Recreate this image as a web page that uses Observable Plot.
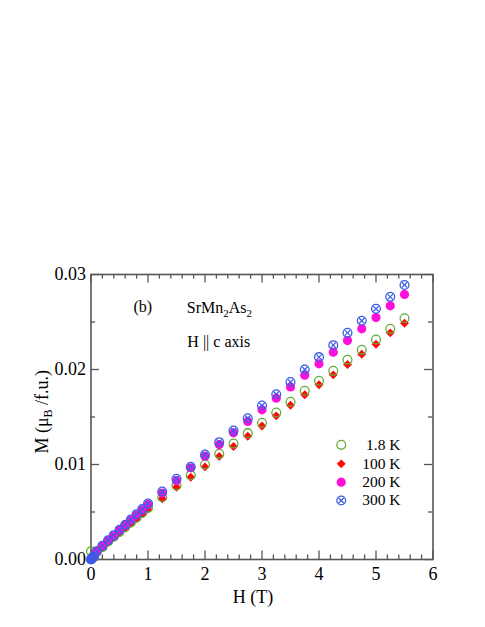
<!DOCTYPE html>
<html>
<head>
<meta charset="utf-8">
<script src="https://cdn.jsdelivr.net/npm/d3@7"></script>
<script src="https://cdn.jsdelivr.net/npm/@observablehq/plot@0.6"></script>
<style>
  html, body { margin: 0; padding: 0; background: #fff; }
  #chart svg { display: block; }
</style>
</head>
<body>
<div id="chart"></div>
<script>
// ---- data ----
const H = [0, 0.01, 0.02, 0.03, 0.05, 0.1, 0.2, 0.3, 0.4, 0.5, 0.6, 0.7, 0.8, 0.9, 1.0, 1.25, 1.5, 1.75, 2.0, 2.25, 2.5, 2.75, 3.0, 3.25, 3.5, 3.75, 4.0, 4.25, 4.5, 4.75, 5.0, 5.25, 5.5];
const M_1p8K = [0.00085, 0.0001, 0.0002, 0.00022, 0.0003, 0.0008, 0.0013, 0.0019, 0.0024, 0.0029, 0.0034, 0.0039, 0.0044, 0.0049, 0.00544, 0.00656, 0.00779, 0.00888, 0.0100, 0.01112, 0.01221, 0.0133, 0.01439, 0.01547, 0.0166, 0.01776, 0.01881, 0.01986, 0.02102, 0.02207, 0.02316, 0.02428, 0.0254];
const M_100K = [0, 0.00005, 0.0001, 0.00015, 0.00025, 0.0008, 0.0013, 0.0018, 0.0023, 0.0028, 0.0033, 0.0038, 0.0043, 0.0048, 0.0053, 0.0064, 0.0076, 0.00866, 0.00975, 0.01085, 0.0119, 0.01298, 0.01405, 0.01512, 0.01624, 0.01734, 0.01839, 0.01944, 0.02053, 0.02161, 0.02266, 0.02386, 0.02487];
const M_200K = [0, 0.00005, 0.0001, 0.00017, 0.0003, 0.00085, 0.0014, 0.00198, 0.0025, 0.00308, 0.0036, 0.00413, 0.00468, 0.0052, 0.00578, 0.0070, 0.0083, 0.00965, 0.01088, 0.0121, 0.01333, 0.01453, 0.01576, 0.01698, 0.01816, 0.0194, 0.0206, 0.02182, 0.02305, 0.02428, 0.02547, 0.0267, 0.0279];
const M_300K = [0, 0.00006, 0.00012, 0.00018, 0.0003, 0.00087, 0.00144, 0.00203, 0.00256, 0.00313, 0.00365, 0.00421, 0.00477, 0.0053, 0.0059, 0.00716, 0.0085, 0.00976, 0.01105, 0.01235, 0.01358, 0.01487, 0.01621, 0.0174, 0.01868, 0.0200, 0.0213, 0.02256, 0.02386, 0.02513, 0.02639, 0.02765, 0.0289];
const seriesLabels = ["1.8 K", "100 K", "200 K", "300 K"];
const xTickLabels = [0, 1, 2, 3, 4, 5, 6];
const yTickLabels = [0, 0.01, 0.02, 0.03];

// ---- styling ----
const cGreen = "#62ad35", cRed = "#ff0a0a", cMag = "#ff10d8", cBlue = "#3a5ce6";
const font = "'Liberation Serif', 'Times New Roman', serif";

const rows = (Ms) => H.map((h, i) => ({H: h, M: Ms[i]}));
const d18 = rows(M_1p8K), d100 = rows(M_100K), d200 = rows(M_200K), d300 = rows(M_300K);

const xMinor = d3.range(0, 6.001, 0.2).filter(v => Math.abs(v - Math.round(v)) > 1e-6);
const yMinor = [0.005, 0.015, 0.025];

// legend layout in data coords
const legX = 4.39, legTextX = 5.43;
const legY = [0.01207, 0.01007, 0.00814, 0.00621];
const leg = seriesLabels.map((s, i) => ({label: s, x: legX, tx: legTextX, y: legY[i]}));

const tickStroke = "#555";
const chart = Plot.plot({
  width: 485,
  height: 627,
  marginLeft: 90.5,
  marginRight: 52.5,
  marginTop: 274,
  marginBottom: 68,
  style: {fontFamily: font, background: "#fff", color: "#000"},
  x: {domain: [0, 6], label: null},
  y: {domain: [0, 0.03], label: null},
  marks: [
    // inward ticks on all sides
    Plot.ruleX(xTickLabels, {x: d => d, y1: 0, y2: 0.0009, stroke: tickStroke, strokeWidth: 1.3}),
    Plot.ruleX(xMinor, {x: d => d, y1: 0, y2: 0.00048, stroke: tickStroke, strokeWidth: 1.3}),
    Plot.ruleX(xTickLabels, {x: d => d, y1: 0.03, y2: 0.0291, stroke: tickStroke, strokeWidth: 1.3}),
    Plot.ruleX(xMinor, {x: d => d, y1: 0.03, y2: 0.02952, stroke: tickStroke, strokeWidth: 1.3}),
    Plot.ruleY(yTickLabels, {y: d => d, x1: 0, x2: 0.15, stroke: tickStroke, strokeWidth: 1.3}),
    Plot.ruleY(yMinor, {y: d => d, x1: 0, x2: 0.08, stroke: tickStroke, strokeWidth: 1.3}),
    Plot.ruleY(yTickLabels, {y: d => d, x1: 6, x2: 5.85, stroke: tickStroke, strokeWidth: 1.3}),
    Plot.ruleY(yMinor, {y: d => d, x1: 6, x2: 5.92, stroke: tickStroke, strokeWidth: 1.3}),
    Plot.frame({stroke: tickStroke, strokeWidth: 1.6}),
    Plot.axisX({ticks: xTickLabels, tickSize: 0, tickPadding: 8, fontSize: 18, label: null, tickFormat: d3.format("d")}),
    Plot.axisY({ticks: yTickLabels, tickSize: 0, tickPadding: 5, fontSize: 18, label: null, tickFormat: d3.format(".2f")}),
    // data
    Plot.dot(d100, {x: "H", y: "M", symbol: "diamond2", r: 4, fill: cRed, stroke: "none"}),
    Plot.dot(d18, {x: "H", y: "M", symbol: "circle", r: 4.4, fill: "none", stroke: cGreen, strokeWidth: 1.3}),
    Plot.dot(d200, {x: "H", y: "M", symbol: "circle", r: 4.6, fill: cMag, stroke: "none"}),
    Plot.dot(d300, {x: "H", y: "M", symbol: "circle", r: 4.4, fill: "none", stroke: cBlue, strokeWidth: 1.3}),
    Plot.dot(d300, {x: "H", y: "M", symbol: "times", r: 2.6, stroke: cBlue, strokeWidth: 1.2}),
    // legend
    Plot.dot([leg[0]], {x: "x", y: "y", symbol: "circle", r: 4.4, fill: "none", stroke: cGreen, strokeWidth: 1.3}),
    Plot.dot([leg[1]], {x: "x", y: "y", symbol: "diamond2", r: 4, fill: cRed, stroke: "none"}),
    Plot.dot([leg[2]], {x: "x", y: "y", symbol: "circle", r: 4.6, fill: cMag, stroke: "none"}),
    Plot.dot([leg[3]], {x: "x", y: "y", symbol: "circle", r: 4.4, fill: "none", stroke: cBlue, strokeWidth: 1.3}),
    Plot.dot([leg[3]], {x: "x", y: "y", symbol: "times", r: 2.6, stroke: cBlue, strokeWidth: 1.2}),
    Plot.text(leg, {x: "tx", y: "y", text: "label", textAnchor: "end", fontSize: 15.5, fill: "#000"}),
    // annotations
    Plot.text(["(b)"], {x: 0.746, y: 0.0261, text: d => d, textAnchor: "start", lineAnchor: "bottom", fontSize: 16, fill: "#000"}),
    Plot.text(["H || c axis"], {x: 1.69, y: 0.0224, text: d => d, textAnchor: "start", lineAnchor: "bottom", fontSize: 16, fill: "#000"})
  ]
});

const svg = d3.select(chart);
const xs = chart.scale("x"), ys = chart.scale("y");

// SrMn2As2 with subscripts
const t = svg.append("text")
  .attr("x", xs.apply(1.69)).attr("y", ys.apply(0.0259))
  .attr("text-anchor", "start")
  .attr("font-family", font).attr("font-size", 16).attr("fill", "#000");
t.append("tspan").text("SrMn");
t.append("tspan").text("2").attr("font-size", 11).attr("dy", 4);
t.append("tspan").text("As").attr("dy", -4);
t.append("tspan").text("2").attr("font-size", 11).attr("dy", 4);

// x axis label
svg.append("text")
  .attr("x", xs.apply(2.85)).attr("y", 603)
  .attr("text-anchor", "middle")
  .attr("font-family", font).attr("font-size", 18).attr("fill", "#000")
  .text("H (T)");

// y axis label with subscript B
const yl = svg.append("text")
  .attr("transform", `translate(48,${ys.apply(0.0155)}) rotate(-90)`)
  .attr("text-anchor", "middle")
  .attr("font-family", font).attr("font-size", 18).attr("fill", "#000");
yl.append("tspan").text("M (μ");
yl.append("tspan").text("B").attr("font-size", 12).attr("dy", 4);
yl.append("tspan").text(" /f.u.)").attr("dy", -4);

document.getElementById("chart").appendChild(chart);
</script>
</body>
</html>
